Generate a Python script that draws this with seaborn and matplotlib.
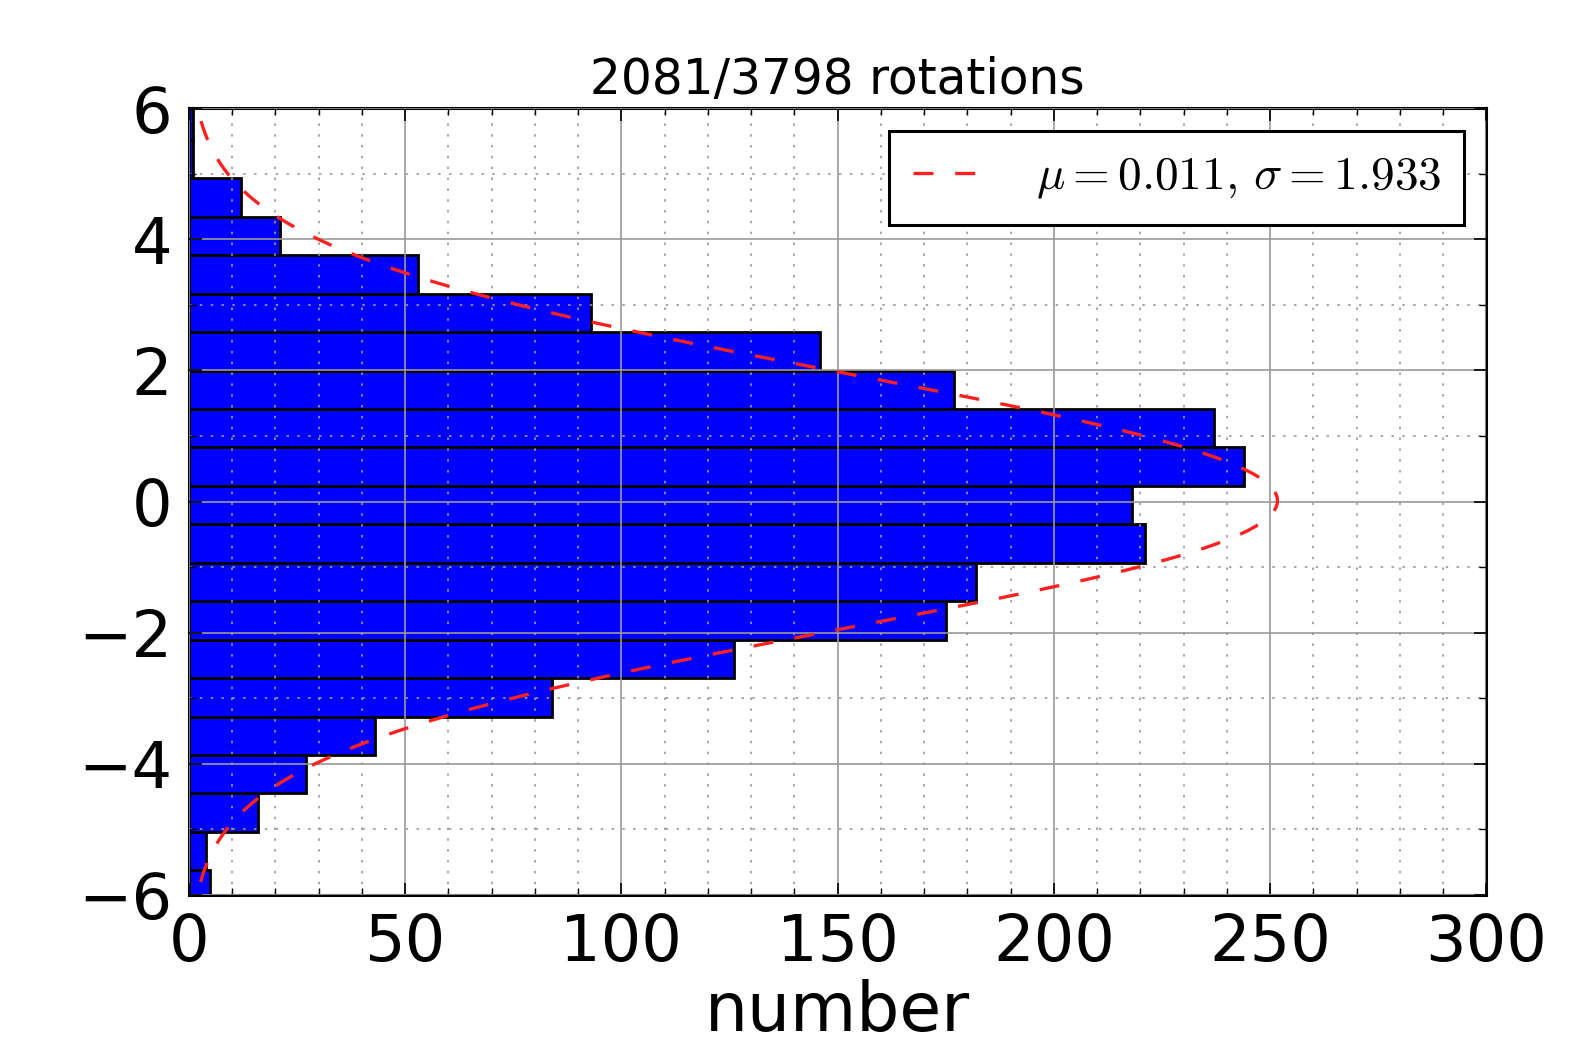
import numpy as np
import pandas as pd
import matplotlib
matplotlib.use("Agg")
import matplotlib.pyplot as plt
import seaborn as sns
from matplotlib.ticker import MultipleLocator

# ---- data ----
bin_edges = [-6.210, -5.624, -5.038, -4.451, -3.865, -3.279, -2.693, -2.107,
             -1.520, -0.934, -0.348, 0.238, 0.824, 1.411, 1.997, 2.583,
             3.169, 3.755, 4.342, 4.928, 5.514, 6.100]
counts = [5, 4, 16, 27, 43, 84, 126, 175, 182, 221, 218, 244, 237, 177,
          146, 93, 53, 21, 12, 1, 1]
mu = 0.011
sigma = 1.933
n_rot = 2081
n_total = 3798
curve_range = [-5.80, 5.82]   # extent of the fitted curve
title_text = f"{n_rot}/{n_total} rotations"
xlabel_text = "number"
x_ticks = [0, 50, 100, 150, 200, 250, 300]
y_ticks = [-6, -4, -2, 0, 2, 4, 6]

edges = np.array(bin_edges)
centers = (edges[:-1] + edges[1:]) / 2
df = pd.DataFrame({"value": centers, "count": counts})
bw = edges[1] - edges[0]
# fitted normal curve (from mu, sigma), scaled to the histogram
yy = np.linspace(curve_range[0], curve_range[1], 400)
pdf = n_rot * bw / (sigma * np.sqrt(2 * np.pi)) * np.exp(-0.5 * ((yy - mu) / sigma) ** 2)

sns.set_style("white")
plt.rcParams["font.family"] = ["DejaVu Sans"]
plt.rcParams["mathtext.fontset"] = "cm"
for k in ["text.color", "axes.labelcolor", "xtick.color", "ytick.color"]:
    plt.rcParams[k] = "black"

fig = plt.figure(figsize=(15.73, 10.46), dpi=100)
ax = fig.add_axes([0.120, 0.1444, 0.825, 0.7523])

sns.histplot(data=df, y="value", weights="count", bins=list(bin_edges), ax=ax,
             color="#0000ff", edgecolor="black", linewidth=2.0, alpha=1.0)

ax.plot(pdf, yy, color="#ff2020", linestyle=(0, (6, 6.5)), linewidth=2.4,
        label=r"$\mu=0.011,\,\sigma=1.933$", zorder=5)

ax.set_xlim(0, 300)
ax.set_ylim(-6, 6)
ax.set_xticks(x_ticks)
ax.set_yticks(y_ticks)
ax.set_yticklabels([f"{v}".replace("-", "\u2212") for v in y_ticks])
ax.xaxis.set_minor_locator(MultipleLocator(10))
ax.yaxis.set_minor_locator(MultipleLocator(1))

ax.set_axisbelow(False)
ax.grid(which="major", color="#999999", linestyle="-", linewidth=1.2)
ax.grid(which="minor", color="#999999", linestyle=(0, (1.5, 5)), linewidth=1.2)

ax.tick_params(which="both", direction="in", top=True, right=True,
               left=True, bottom=True, color="black")
ax.tick_params(which="major", length=9, width=1.2, labelsize=46, pad=12)
ax.tick_params(which="minor", length=5, width=1.0)
for s in ax.spines.values():
    s.set_color("black")
    s.set_linewidth(2.2)

ax.set_ylabel("")
ax.set_xlabel(xlabel_text, fontsize=49, labelpad=4)
ax.set_title(title_text, fontsize=35, pad=10)

leg = ax.legend(loc="upper right", bbox_to_anchor=(0.983, 0.971),
                borderaxespad=0.0,
                fontsize=34, frameon=True, fancybox=False, framealpha=1.0,
                edgecolor="black", handlelength=1.45, handletextpad=1.15,
                borderpad=0.5)
leg.get_frame().set_linewidth(2.2)

fig.savefig("out.png", dpi=100)
